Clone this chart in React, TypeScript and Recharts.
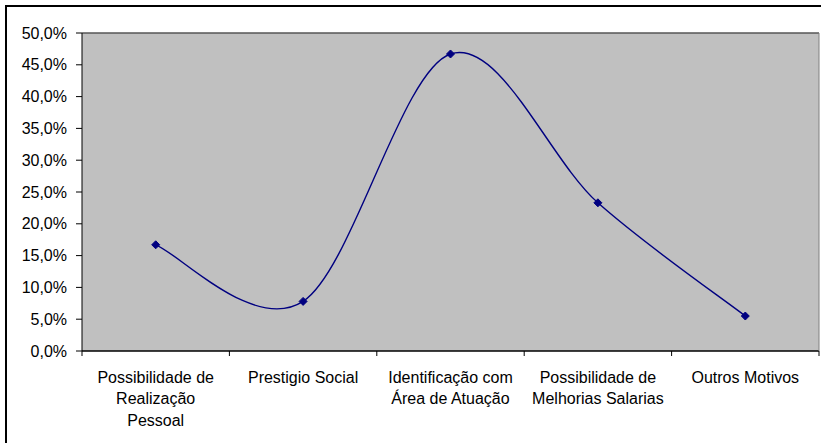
import { CartesianGrid, ComposedChart, Line, ReferenceLine, XAxis, YAxis } from "recharts";

const categories = [
  "Possibilidade de\nRealização\nPessoal",
  "Prestigio Social",
  "Identificação com\nÁrea de Atuação",
  "Possibilidade de\nMelhorias Salarias",
  "Outros Motivos",
];
const percentages = [16.7, 7.8, 46.7, 23.3, 5.5];
const yTicks = [0, 5, 10, 15, 20, 25, 30, 35, 40, 45, 50];

const data = categories.map((name, i) => ({ name, value: percentages[i] }));

const WIDTH = 821;
const HEIGHT = 443;
const FONT = "'Liberation Sans', Arial, sans-serif";
const NAVY = "#000080";
const TICK_SIZE = 6;

// Excel-style smoothed line (Catmull-Rom through the points)
function excelSmooth(context: any) {
  let pts: [number, number][] = [];
  return {
    areaStart() {},
    areaEnd() {},
    lineStart() {
      pts = [];
    },
    lineEnd() {
      const n = pts.length;
      if (!n) return;
      context.moveTo(pts[0][0], pts[0][1]);
      for (let i = 0; i < n - 1; i++) {
        const p0 = pts[Math.max(i - 1, 0)];
        const p1 = pts[i];
        const p2 = pts[i + 1];
        const p3 = pts[Math.min(i + 2, n - 1)];
        context.bezierCurveTo(
          p1[0] + (p2[0] - p0[0]) / 6,
          p1[1] + (p2[1] - p0[1]) / 6,
          p2[0] - (p3[0] - p1[0]) / 6,
          p2[1] - (p3[1] - p1[1]) / 6,
          p2[0],
          p2[1]
        );
      }
    },
    point(x: number, y: number) {
      pts.push([+x, +y]);
    },
  };
}

function Diamond({ cx, cy }: { cx?: number; cy?: number }) {
  if (cx == null || cy == null) return null;
  const r = 4;
  return (
    <polygon
      points={`${cx},${cy - r} ${cx + r},${cy} ${cx},${cy + r} ${cx - r},${cy}`}
      fill={NAVY}
      stroke={NAVY}
    />
  );
}

function CategoryTick(props: any) {
  const { x, y, payload, index } = props;
  const half = payload?.offset || 73.7;
  const axisY = y - TICK_SIZE;
  const lines = String(payload.value).split("\n");
  return (
    <g>
      <line x1={x - half} x2={x - half} y1={axisY} y2={axisY + 5} stroke="#000" />
      {index === categories.length - 1 && (
        <line x1={x + half} x2={x + half} y1={axisY} y2={axisY + 5} stroke="#000" />
      )}
      <text textAnchor="middle" fontFamily={FONT} fontSize={16} fill="#000">
        {lines.map((l, i) => (
          <tspan key={i} x={x} y={axisY + 31.5 + i * 21.5}>
            {l}
          </tspan>
        ))}
      </text>
    </g>
  );
}

export default function App() {
  return (
    <div
      style={{
        position: "absolute",
        left: 0,
        top: 0,
        width: WIDTH,
        height: HEIGHT,
        overflow: "hidden",
        background: "#fff",
      }}
    >
      <div
        style={{
          position: "absolute",
          left: 5,
          top: 5,
          width: 900,
          height: 600,
          borderLeft: "2px solid #000",
          borderTop: "2px solid #000",
        }}
      />
      <div style={{ position: "absolute", left: 0, top: 0 }}>
        <ComposedChart
          width={WIDTH}
          height={HEIGHT}
          data={data}
          margin={{ top: 33, right: 0, bottom: 0, left: 0 }}
        >
          <CartesianGrid vertical={false} stroke="#000" fill="#c0c0c0" fillOpacity={1} />
          <XAxis
            dataKey="name"
            scale="band"
            interval={0}
            height={92}
            tickLine={false}
            tickSize={TICK_SIZE}
            tickMargin={0}
            axisLine={{ stroke: "#000" }}
            tick={<CategoryTick />}
          />
          <YAxis
            yAxisId="l"
            width={82}
            domain={[0, 50]}
            ticks={yTicks}
            interval={0}
            tickFormatter={(v: number) => v.toFixed(1).replace(".", ",") + "%"}
            tick={{ fill: "#000", fontSize: 16, fontFamily: FONT }}
            tickSize={6}
            tickMargin={9}
            tickLine={{ stroke: "#000" }}
            axisLine={{ stroke: "#000" }}
          />
          <YAxis
            yAxisId="r"
            orientation="right"
            width={2}
            domain={[0, 50]}
            tick={false}
            tickLine={false}
            axisLine={{ stroke: "#808080" }}
          />
          <ReferenceLine yAxisId="l" y={50} stroke="#808080" />
          <Line
            yAxisId="l"
            dataKey="value"
            type={excelSmooth as any}
            stroke={NAVY}
            strokeWidth={1.4}
            dot={<Diamond />}
            activeDot={false}
            isAnimationActive={false}
          />
        </ComposedChart>
      </div>
    </div>
  );
}
